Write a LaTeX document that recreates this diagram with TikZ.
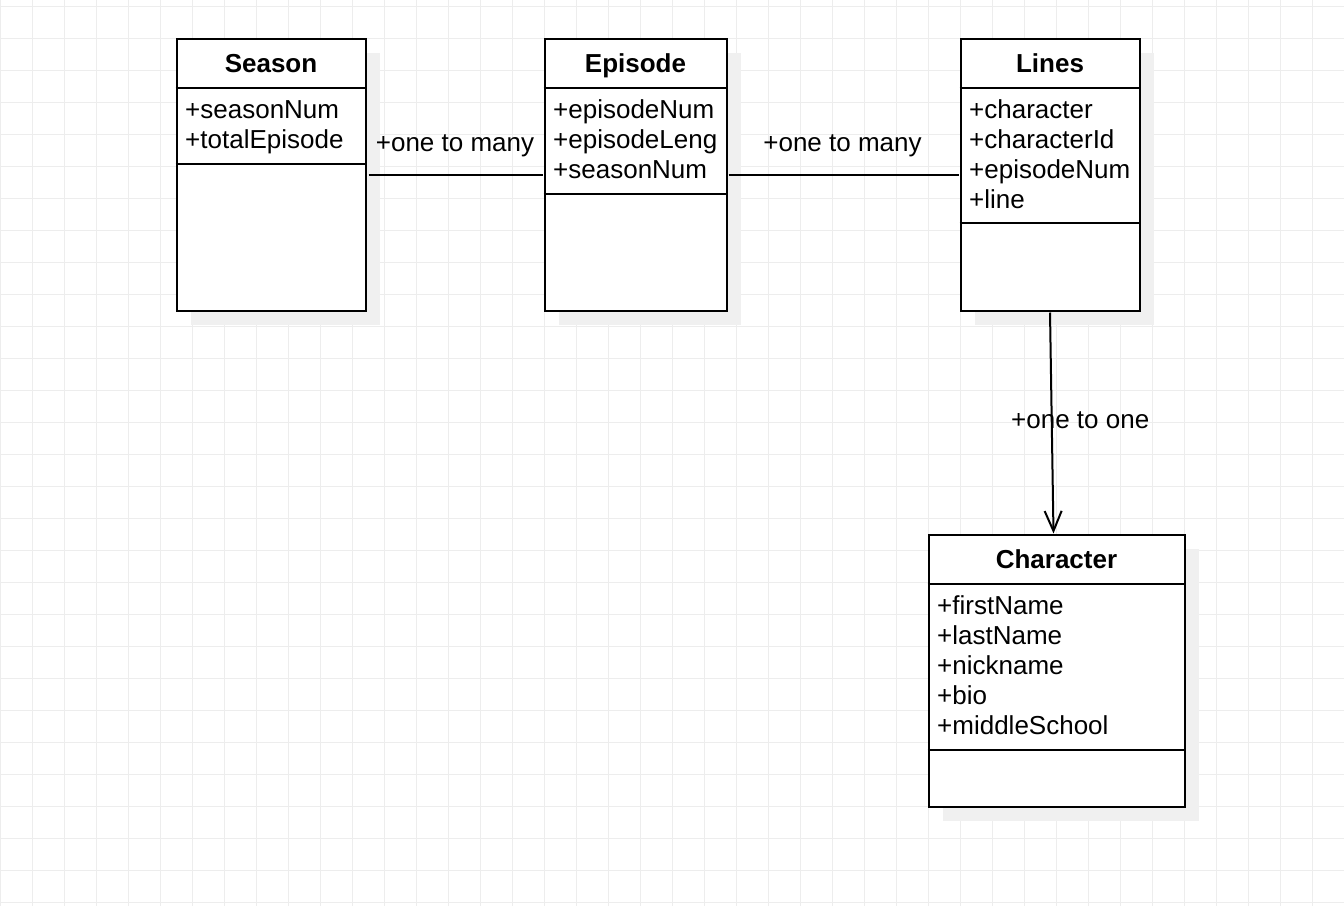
\documentclass[tikz,border=0pt]{standalone}
\usepackage{fontspec}
\setmainfont{Liberation Sans}
\usetikzlibrary{calc,positioning,arrows.meta,shadows}
\tikzset{
	classbox/.style={draw, line width=2pt, fill=white, anchor=north west, inner sep=0pt,
		general shadow={fill=black!6, shadow xshift=14pt, shadow yshift=-14pt}},
	classname/.style={anchor=base, font=\bfseries\fontsize{26}{30}\selectfont},
	attrs/.style={anchor=north west, align=left, inner sep=0pt, font=\fontsize{26}{30}\selectfont},
	rel/.style={line width=2pt},
	rellabel/.style={anchor=base, inner sep=0pt, font=\fontsize{26}{30}\selectfont},
	gridline/.style={line width=1pt, black!7}
}
\begin{document}
\begin{tikzpicture}[x=1pt, y=-1pt]
	 		\useasboundingbox[fill=white] (0,0) rectangle (1344,906);
	 		\foreach \x in {0,32,...,1344} \draw[gridline] (\x,0) -- (\x,906);
	 		\foreach \y in {6,38,...,902} \draw[gridline] (0,\y) -- (1344,\y);
	 		\node[classbox, minimum width=189pt, minimum height=272pt] (season) at (175.5,37.5) {};
	 		\node[classbox, minimum width=182pt, minimum height=272pt] (episode) at (543.5,37.5) {};
	 		\node[classbox, minimum width=179pt, minimum height=272pt] (lines) at (959.5,37.5) {};
	 		\node[classbox, minimum width=256pt, minimum height=272pt] (character) at (927.5,533.5) {};
	 		\draw[line width=2pt] (season.west |- 0,88) -- (season.east |- 0,88);
	 		\draw[line width=2pt] (season.west |- 0,164) -- (season.east |- 0,164);
	 		\draw[line width=2pt] (episode.west |- 0,88) -- (episode.east |- 0,88);
	 		\draw[line width=2pt] (episode.west |- 0,194) -- (episode.east |- 0,194);
	 		\draw[line width=2pt] (lines.west |- 0,88) -- (lines.east |- 0,88);
	 		\draw[line width=2pt] (lines.west |- 0,223) -- (lines.east |- 0,223);
	 		\draw[line width=2pt] (character.west |- 0,584) -- (character.east |- 0,584);
	 		\draw[line width=2pt] (character.west |- 0,750) -- (character.east |- 0,750);
	 		\node[classname] (seasonname) at (season.north |- 0,72) {Season};
	 		\node[classname] (episodename) at (episode.north |- 0,72) {Episode};
	 		\node[classname] (linesname) at (lines.north |- 0,72) {Lines};
	 		\node[classname] (charactername) at (character.north |- 0,568) {Character};
	 		\node[attrs] (seasonattrs) at (185,97) {\strut+seasonNum\\\strut+totalEpisode};
	 		\node[attrs] (episodeattrs) at (553,97) {\strut+episodeNum\\\strut+episodeLeng\\\strut+seasonNum};
	 		\node[attrs] (linesattrs) at (969,97) {\strut+character\\\strut+characterId\\\strut+episodeNum\\\strut+line};
	 		\node[attrs] (characterattrs) at (937,593) {\strut+firstName\\\strut+lastName\\\strut+nickname\\\strut+bio\\\strut+middleSchool};
	 		\draw[rel, shorten <=2pt, shorten >=1pt] (season) -- node[rellabel, yshift=23.5pt] (seasonrel) {+one to many} (episode);
	 		\draw[rel, shorten <=1pt, shorten >=1pt] (episode) -- node[rellabel, yshift=23.5pt, xshift=-1pt] (episoderel) {+one to many} (lines);
	 		\draw[rel, shorten <=1pt, -{Straight Barb[length=20pt, width=17pt]}] (lines.south) -- node[rellabel, xshift=28.5pt, yshift=-5.5pt] (linesrel) {+one to one} ([xshift=-3pt]character.north);
	 	\end{tikzpicture}
\end{document}
